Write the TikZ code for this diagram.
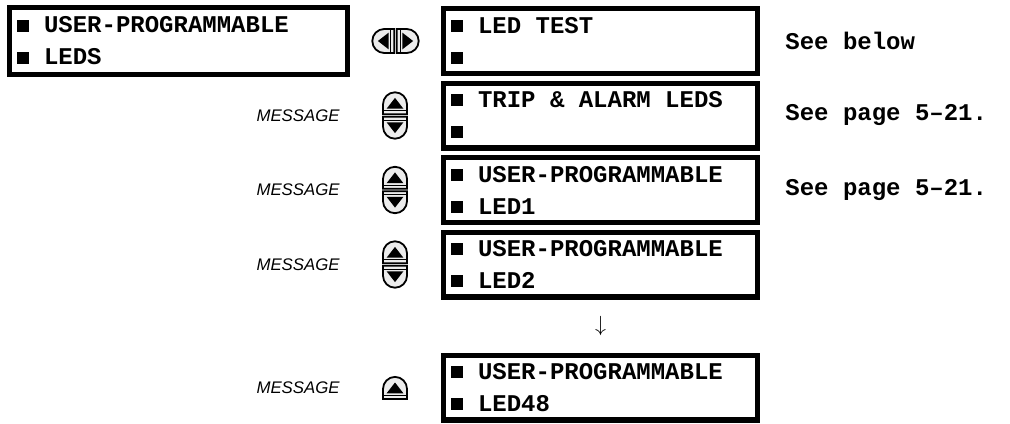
\documentclass[tikz,border=0pt]{standalone}
\usepackage{fontspec}
\usetikzlibrary{positioning, calc}
\newfontfamily\lcdfont{Liberation Mono}
\newfontfamily\msgfont{Liberation Sans}

% display line: square bullet, then text
\newcommand{\sq}{\rule[0.6pt]{6pt}{6pt}}
\newcommand{\lcd}[2]{\sq\hspace{7.5pt}#1\\\sq\hspace{7.5pt}#2}

\tikzset{
    keyline/.style={draw=black, fill=gray!15, line width=0.9pt},
    % one keypad key, pointing up, flat side at the origin
    navkey/.pic={
        \draw[keyline] (-6pt,0.6pt) -- (-6pt,5.6pt)
            arc[start angle=180, end angle=0, radius=6pt] -- (6pt,0.6pt) -- cycle;
        \draw[line width=0.6pt] (-6pt,2.4pt) -- (6pt,2.4pt);
        \fill (-4.2pt,3.4pt) -- (4.2pt,3.4pt) -- (0,8.8pt) -- cycle;
    },
    updown/.pic={
        \pic {navkey};
        \pic[rotate=180] {navkey};
    },
    leftright/.pic={
        \pic[rotate=90] {navkey};
        \pic[rotate=-90] {navkey};
    },
    upkey/.pic={
        \pic at (0,-6.3pt) {navkey};
    }
}

\begin{document}
\begin{tikzpicture}[
    node distance=2.25pt and 45.5pt,
    % display boxes
    lcdbox/.style={
        rectangle,
        draw=black,
        line width=2.6pt,
        align=flush left,
        text width=149.5pt,
        minimum height=32.4pt,
        inner xsep=3.7pt,
        inner ysep=2pt,
        font=\lcdfont\bfseries\fontsize{12}{16}\selectfont
    },
    menubox/.style={
        lcdbox,
        text width=161.5pt,
        minimum height=33.4pt
    },
    msg/.style={anchor=east, inner xsep=0pt, font=\msgfont\itshape\fontsize{8.4}{10}\selectfont},
    note/.style={inner xsep=0pt, font=\lcdfont\bfseries\fontsize{12}{14}\selectfont}
]

\useasboundingbox (0,0) rectangle (505pt,-211.5pt);

% ==============================
% Header
% ==============================
\node[menubox, anchor=north west] (menu) at (3.5pt,-2.5pt) {\lcd{USER-PROGRAMMABLE}{LEDS}};

% ==============================
% Sub-menu items
% ==============================
\node[lcdbox, right=of menu] (ledtest) {\lcd{LED TEST}{}};
\node[lcdbox, below=of ledtest] (tripalarm) {\lcd{TRIP \& ALARM LEDS}{}};
\node[lcdbox, below=of tripalarm] (led1) {\lcd{USER-PROGRAMMABLE}{LED1}};
\node[lcdbox, below=of led1] (led2) {\lcd{USER-PROGRAMMABLE}{LED2}};
\node[lcdbox, below=26.5pt of led2] (led48) {\lcd{USER-PROGRAMMABLE}{LED48}};

\node[font=\fontsize{10.5}{10.5}\selectfont] (more) at ($(led2.south)!0.5!(led48.north)$) {$\downarrow$};

% ==============================
% References
% ==============================
\node[note, right=12.5pt of ledtest] (seebelow) {See below};
\node[note, right=12.5pt of tripalarm] (seetrip) {See page 5–21.};
\node[note, right=12.5pt of led1] (seeled) {See page 5–21.};

% ==============================
% Keys and MESSAGE labels
% ==============================
\coordinate (navx) at (197.5pt,0);
\coordinate (msgx) at (170pt,0);

\pic at ($(menu.east)!0.5!(ledtest.west)$) {leftright};

\node[msg] (msg1) at (msgx |- tripalarm) {MESSAGE};
\node[msg] (msg2) at (msgx |- led1) {MESSAGE};
\node[msg] (msg3) at (msgx |- led2) {MESSAGE};
\node[msg] (msg4) at (msgx |- led48) {MESSAGE};

\pic at (navx |- tripalarm) {updown};
\pic at (navx |- led1) {updown};
\pic at (navx |- led2) {updown};
\pic at (navx |- led48) {upkey};

\end{tikzpicture}
\end{document}
